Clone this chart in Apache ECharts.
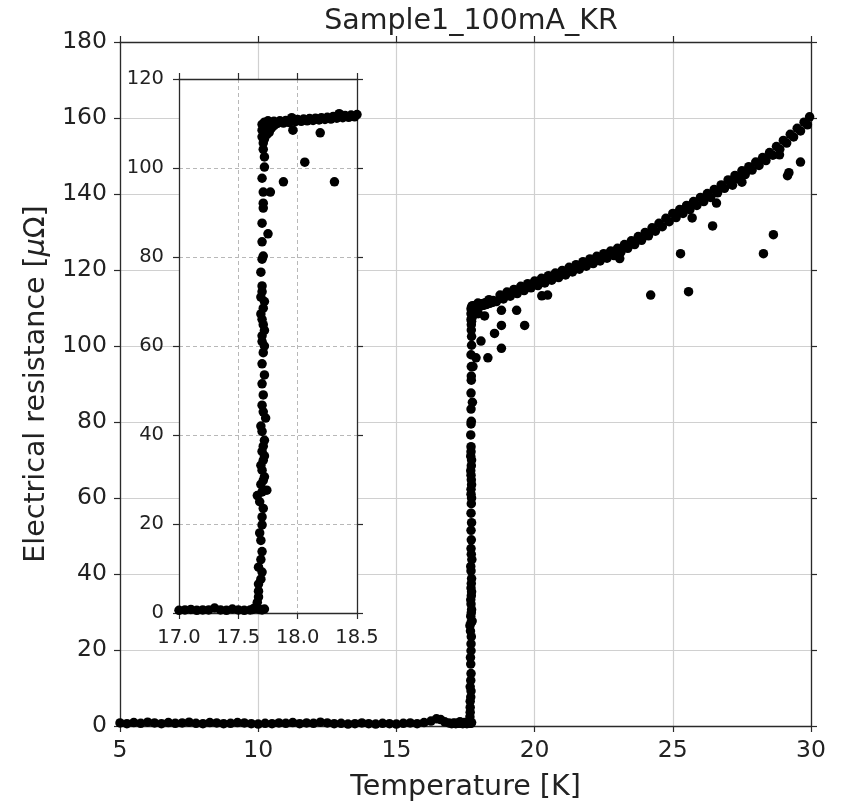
<!DOCTYPE html>
<html>
<head>
<meta charset="utf-8">
<script src="https://cdn.jsdelivr.net/npm/echarts@6/dist/echarts.min.js"></script>
<style>
  html, body { margin: 0; padding: 0; background: #fff; }
  #chart { width: 841px; height: 807px; }
</style>
</head>
<body>
<div id="chart"></div>
<script>
// temperature [K], resistance [uOhm]
const baseline = [
  [5.0, 0.8], [5.25, 0.6], [5.5, 0.9], [5.75, 0.7], [6.0, 1.0], [6.25, 0.8], [6.5, 0.6], [6.75, 0.9],
  [7.0, 0.7], [7.25, 0.8], [7.5, 1.0], [7.75, 0.7], [8.0, 0.6], [8.25, 0.9], [8.5, 0.8], [8.75, 0.6],
  [9.0, 0.7], [9.25, 0.9], [9.5, 0.8], [9.75, 0.6], [10.0, 0.5], [10.25, 0.7], [10.5, 0.6], [10.75, 0.8],
  [11.0, 0.7], [11.25, 0.9], [11.5, 0.6], [11.75, 0.8], [12.0, 0.7], [12.25, 1.0], [12.5, 0.8], [12.75, 0.6],
  [13.0, 0.7], [13.25, 0.5], [13.5, 0.6], [13.75, 0.8], [14.0, 0.6], [14.25, 0.5], [14.5, 0.7], [14.75, 0.6],
  [15.0, 0.5], [15.25, 0.7], [15.5, 0.8], [15.75, 0.6], [16.0, 0.9], [16.25, 1.3], [16.45, 1.9], [16.6, 1.7],
  [16.75, 1.1], [16.9, 0.8],
  [17.0, 0.6], [17.05, 0.7], [17.1, 0.8], [17.15, 0.6], [17.2, 0.7], [17.25, 0.7], [17.3, 1.1], [17.35, 0.7],
  [17.4, 0.6], [17.45, 0.9], [17.5, 0.7], [17.55, 0.6], [17.6, 0.7], [17.62, 0.8]
];

const transition = [
  [17.64, 1.2], [17.66, 2.4], [17.67, 3.6], [17.66, 1.0], [17.68, 0.8], [17.7, 0.7], [17.72, 0.9],
  [17.67, 4.9], [17.67, 6.5], [17.69, 7.6], [17.7, 9.2], [17.67, 10.3], [17.69, 12.0], [17.7, 13.8],
  [17.69, 16.3], [17.68, 18.0], [17.7, 19.8], [17.7, 21.6], [17.71, 23.5], [17.66, 26.4], [17.7, 27.2],
  [17.74, 27.6], [17.69, 28.9], [17.72, 30.6], [17.7, 32.1], [17.71, 34.3], [17.72, 35.3], [17.7, 36.3],
  [17.72, 38.8], [17.7, 40.8], [17.73, 43.8], [17.7, 46.7], [17.71, 49.0], [17.7, 51.5], [17.72, 53.5],
  [17.7, 56.0], [17.71, 58.5], [17.7, 61.0], [17.72, 63.5], [17.7, 66.0], [17.71, 68.5], [17.69, 71.0],
  [17.7, 73.5], [17.69, 76.6], [17.7, 79.5], [17.71, 80.2], [17.7, 83.4], [17.75, 85.2], [17.7, 87.6],
  [17.71, 91.0], [17.71, 92.1], [17.71, 94.6], [17.77, 94.6], [17.7, 97.7], [17.72, 100.2], [17.72, 102.5],
  [17.71, 104.2], [17.71, 105.6], [17.7, 107.0], [17.7, 108.5], [17.7, 109.8], [17.72, 106.5],
  [17.74, 107.5], [17.73, 108.8], [17.76, 108.0], [17.78, 109.0], [17.8, 109.5], [17.72, 110.3], [17.75, 110.6],
  [17.68, 25.0], [17.71, 29.8], [17.69, 33.2], [17.71, 37.5], [17.69, 42.0], [17.71, 45.2],
  [17.72, 60.0], [17.7, 62.3], [17.71, 64.8], [17.69, 67.2], [17.72, 70.0], [17.7, 72.2]
];

const upperRow = [
  [17.76, 110.4], [17.8, 110.5], [17.85, 110.6], [17.9, 110.7], [17.95, 111.3], [18.0, 110.9], [18.05, 111.0],
  [18.1, 111.1], [18.15, 111.2], [18.2, 111.3], [18.25, 111.4], [18.3, 111.6], [18.35, 112.2], [18.4, 111.8],
  [18.45, 111.9], [18.5, 112.0], [18.75, 113.4], [19.0, 114.2], [19.25, 114.9], [19.5, 115.7], [19.75, 116.4],
  [20.0, 117.1], [20.25, 117.8], [20.5, 118.5], [20.75, 119.2], [21.0, 119.9], [21.25, 120.7], [21.5, 121.4],
  [21.75, 122.2], [22.0, 122.9], [22.25, 123.6], [22.5, 124.3], [22.75, 125.0], [23.0, 125.7], [23.25, 126.7],
  [23.5, 127.7], [23.75, 128.8], [24.0, 129.9], [24.25, 131.1], [24.5, 132.3], [24.75, 133.6], [25.0, 134.9],
  [25.25, 135.9], [25.5, 137.0], [25.75, 138.0], [26.0, 139.1], [26.25, 140.1], [26.5, 141.2], [26.75, 142.4],
  [27.0, 143.7], [27.25, 144.9], [27.5, 146.1], [27.75, 147.2], [28.0, 148.4], [28.25, 149.6], [28.5, 150.9],
  [28.75, 152.5], [29.0, 154.1], [29.25, 155.7], [29.5, 157.3], [29.75, 158.9], [29.95, 160.3]
];

const lowerRow = [
  [17.78, 109.8], [17.83, 110.0], [17.88, 110.1], [17.93, 110.2], [17.98, 110.4], [18.03, 110.5], [18.08, 110.6],
  [18.13, 110.7], [18.18, 110.8], [18.23, 110.9], [18.28, 111.0], [18.33, 111.2], [18.38, 111.3], [18.43, 111.4],
  [18.48, 111.5], [18.62, 111.7], [18.87, 112.4], [19.12, 113.1], [19.37, 113.8], [19.62, 114.6], [19.87, 115.3],
  [20.12, 115.9], [20.37, 116.6], [20.62, 117.3], [20.87, 118.0], [21.12, 118.7], [21.37, 119.5], [21.62, 120.2],
  [21.87, 121.0], [22.12, 121.7], [22.37, 122.4], [22.62, 123.1], [22.87, 123.8], [23.12, 124.7], [23.37, 125.7],
  [23.62, 126.7], [23.87, 127.8], [24.12, 129.0], [24.37, 130.2], [24.62, 131.4], [24.87, 132.7], [25.12, 133.8],
  [25.37, 134.9], [25.62, 135.9], [25.87, 137.0], [26.12, 138.0], [26.37, 139.1], [26.62, 140.3], [26.87, 141.5],
  [27.12, 142.8], [27.37, 144.0], [27.62, 145.1], [27.87, 146.3], [28.12, 147.5], [28.37, 148.8], [28.62, 150.2],
  [28.87, 151.8], [29.12, 153.4], [29.37, 155.0], [29.62, 156.6], [29.87, 158.2]
];

const outliers = [
  [17.88, 96.9], [17.96, 108.5], [18.06, 101.3], [18.19, 107.9], [18.31, 96.9],
  [18.55, 103.3], [18.8, 105.4], [18.8, 109.4], [18.8, 99.4], [19.35, 109.4], [19.64, 105.4],
  [20.26, 113.2], [20.47, 113.4], [23.08, 123.0], [24.2, 113.4], [25.28, 124.3], [25.57, 114.3],
  [25.7, 133.7], [26.44, 131.6], [26.58, 137.6], [27.16, 142.3], [27.5, 143.1], [28.28, 124.3],
  [28.64, 129.3], [28.86, 150.3], [29.15, 144.8], [29.2, 145.6], [29.62, 148.4]
];

const mainXTicks = [5, 30, 5];      // min, max, step
const mainYTicks = [0, 180, 20];
const insetXTicks = [17.0, 18.5, 0.5];
const insetYTicks = [0, 120, 20];

const allPoints = baseline.concat(transition, upperRow, lowerRow, outliers);

const chart = echarts.init(document.getElementById('chart'));
const font = 'DejaVu Sans';
const frame = { show: true, onZero: false, lineStyle: { color: '#2a2a2a', width: 1.3 } };
const tick = { show: true, inside: false, length: 6, lineStyle: { color: '#2a2a2a', width: 1.2 } };

function axis(idx, pos, ticks, opts) {
  return Object.assign({
    type: 'value', gridIndex: idx, position: pos,
    min: ticks[0], max: ticks[1], interval: ticks[2],
    axisLine: frame, axisTick: tick,
    axisLabel: { show: false },
    splitLine: { show: false }
  }, opts);
}

const mainLabel = { show: true, fontSize: 23.5, color: '#222', fontFamily: font, margin: 13 };
const insetLabel = { show: true, fontSize: 19.5, color: '#222', fontFamily: font, margin: 15 };
const mainGrid = { show: true, lineStyle: { color: '#d0d0d0', width: 1.2 } };
const insetGrid = { show: true, lineStyle: { color: '#b8b8b8', width: 1, type: [4, 3] } };
const dot = { color: '#000', opacity: 1 };

const option = {
  animation: false,
  backgroundColor: '#fff',
  title: {
    text: 'Sample1_100mA_KR',
    left: 466, top: 2, textAlign: 'center',
    textStyle: { fontFamily: font, fontSize: 28.5, fontWeight: 'normal', color: '#222' }
  },
  grid: [
    { left: 120, right: 30, top: 42, bottom: 77 },
    { left: 179, width: 178, top: 79, height: 534, show: true, backgroundColor: '#fff', borderWidth: 0, z: 5 }
  ],
  xAxis: [
    axis(0, 'bottom', mainXTicks, {
      axisLabel: mainLabel, splitLine: mainGrid,
      name: 'Temperature [K]', nameLocation: 'middle', nameGap: 47,
      nameTextStyle: { fontFamily: font, fontSize: 28.5, color: '#222' }
    }),
    axis(0, 'top', mainXTicks, {}),
    axis(1, 'bottom', insetXTicks, {
      z: 6, axisLabel: Object.assign({ formatter: v => v.toFixed(1) }, insetLabel), splitLine: insetGrid
    }),
    axis(1, 'top', insetXTicks, { z: 6 })
  ],
  yAxis: [
    axis(0, 'left', mainYTicks, {
      axisLabel: mainLabel, splitLine: mainGrid,
      name: 'Electrical resistance [{i|μ}Ω]', nameLocation: 'middle', nameGap: 66,
      nameTextStyle: {
        fontFamily: font, fontSize: 28.5, color: '#222',
        rich: { i: { fontFamily: font, fontSize: 28.5, fontStyle: 'italic', color: '#222' } }
      }
    }),
    axis(0, 'right', mainYTicks, {}),
    axis(1, 'left', insetYTicks, { z: 6, axisLabel: insetLabel, splitLine: insetGrid }),
    axis(1, 'right', insetYTicks, { z: 6 })
  ],
  series: [
    {
      type: 'scatter', xAxisIndex: 0, yAxisIndex: 0, z: 2,
      data: allPoints, symbol: 'circle', symbolSize: 9.5,
      itemStyle: dot
    },
    {
      type: 'scatter', xAxisIndex: 2, yAxisIndex: 2, z: 7, clip: true,
      data: allPoints, symbol: 'circle', symbolSize: 9.5,
      itemStyle: dot
    }
  ]
};

chart.setOption(option);
</script>
</body>
</html>
